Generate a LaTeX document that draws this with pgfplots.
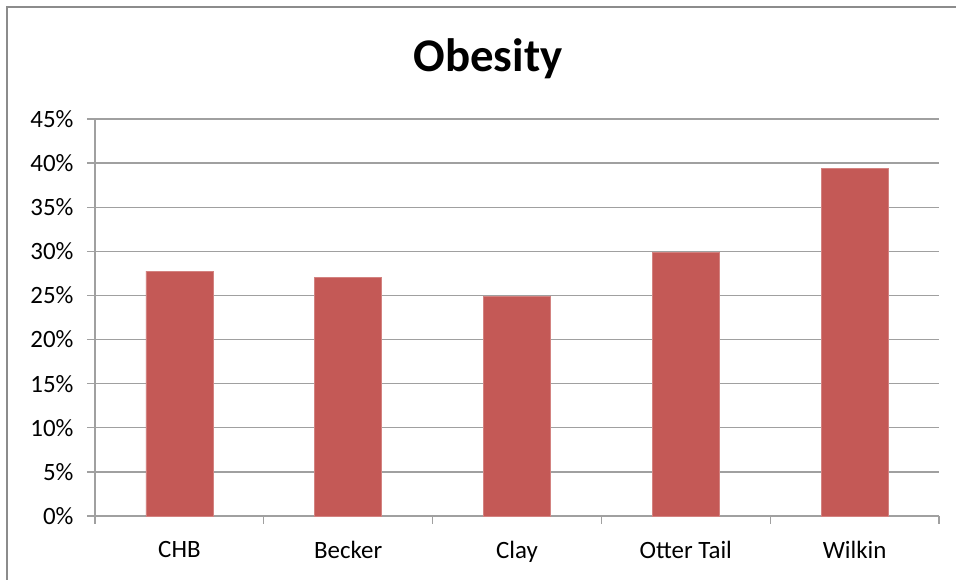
\documentclass[border=0pt]{standalone}
\usepackage{fontspec}
\setmainfont{Carlito}
\usepackage{pgfplots}
\pgfplotsset{compat=1.18}

\definecolor{barred}{RGB}{196,89,86}
\definecolor{gridgray}{RGB}{160,160,160}
\definecolor{framegray}{RGB}{140,140,140}

\begin{document}
\begin{tikzpicture}[x=1bp,y=1bp]
  \useasboundingbox (0,0) rectangle (956,580);
  % chart frame (top and left edges)
  \draw[framegray, line width=2.4bp] (7,0) -- (7,573) -- (956,573);
  % chart title
  \node[font=\fontsize{47}{50}\selectfont\bfseries] at (488,521) {Obesity};
  \begin{axis}[
    at={(95bp,64bp)}, anchor=south west,
    width=844bp, height=397bp, scale only axis,
    xmin=-0.5, xmax=4.5, ymin=0, ymax=45,
    axis lines*=left,
    axis line style={gridgray, line width=1.3bp},
    every tick/.style={gridgray, line width=1.3bp},
    major tick length=8bp,
    tick align=outside,
    xtick={-0.5,0.5,1.5,2.5,3.5,4.5},
    xticklabels={CHB,Becker,Clay,Otter Tail,Wilkin},
    x tick label as interval,
    ytick={0,5,...,45},
    yticklabel={\pgfmathprintnumber{\tick}\%},
    /pgf/number format/assume math mode=true,
    ymajorgrids,
    grid style={gridgray, line width=1.3bp},
    tick label style={font=\fontsize{25}{28}\selectfont, text=black},
    yticklabel style={xshift=-10bp},
    xticklabel style={yshift=-14bp},
    clip=false,
  ]
    \addplot[ybar, bar width=67bp, fill=barred, draw=barred!75!white, line width=0.6bp]
      coordinates {(0,27.75) (1,27.0) (2,24.9) (3,29.9) (4,39.4)};
  \end{axis}
\end{tikzpicture}
\end{document}
